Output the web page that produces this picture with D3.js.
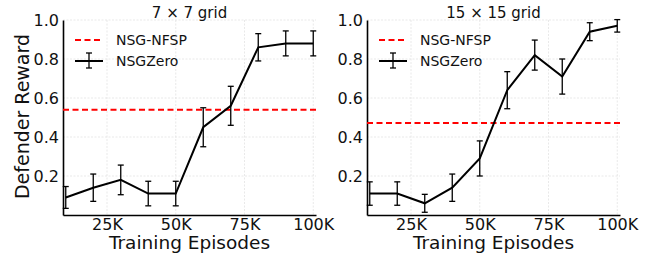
<!DOCTYPE html>
<html>
<head>
<meta charset="utf-8">
<script src="https://cdn.jsdelivr.net/npm/d3@7"></script>
<style>
  body { margin: 0; background: #fff; }
  svg { display: block; }
</style>
</head>
<body>
<svg id="chart" width="659" height="262"></svg>
<script>
const width = 659;
const height = 262;
const fontFamily = "'DejaVu Sans', Verdana, sans-serif";

// Data
const episodes = [10000, 20000, 30000, 40000, 50000, 60000, 70000, 80000, 90000, 100000];
const xTicks = [25000, 50000, 75000, 100000];
const yTicks = [0.2, 0.4, 0.6, 0.8, 1.0];

const titles = ["7 \u00d7 7 grid", "15 \u00d7 15 grid"];
const zeroMean7 = [0.09, 0.14, 0.18, 0.11, 0.11, 0.45, 0.56, 0.86, 0.88, 0.88];
const zeroErr7 = [0.056, 0.07, 0.076, 0.063, 0.063, 0.10, 0.10, 0.07, 0.064, 0.064];
const nfsp7 = 0.54;
const zeroMean15 = [0.11, 0.11, 0.06, 0.14, 0.29, 0.64, 0.82, 0.71, 0.94, 0.97];
const zeroErr15 = [0.06, 0.06, 0.046, 0.07, 0.09, 0.095, 0.077, 0.09, 0.046, 0.032];
const nfsp15 = 0.472;

const panels = [
  { title: titles[0], mean: zeroMean7, err: zeroErr7, nfsp: nfsp7, left: 63, right: 316, yLabel: true },
  { title: titles[1], mean: zeroMean15, err: zeroErr15, nfsp: nfsp15, left: 367, right: 620, yLabel: false }
];

const plotTop = 20;
const plotBottom = 215;

const svg = d3.select("#chart");

panels.forEach(p => {
  const x = d3.scaleLinear().domain([9000, 101000]).range([p.left, p.right]);
  const y = d3.scaleLinear().domain([0, 1.0]).range([plotBottom, plotTop]);
  const g = svg.append("g");

  // Grid
  g.selectAll(".vgrid").data(xTicks).enter().append("line")
    .attr("x1", d => x(d)).attr("x2", d => x(d))
    .attr("y1", plotTop).attr("y2", plotBottom)
    .attr("stroke", "#e3e3e3").attr("stroke-width", 0.8)
    .attr("stroke-dasharray", "2,1.5");
  g.selectAll(".hgrid").data(yTicks).enter().append("line")
    .attr("x1", p.left).attr("x2", p.right)
    .attr("y1", d => y(d)).attr("y2", d => y(d))
    .attr("stroke", "#e3e3e3").attr("stroke-width", 0.8)
    .attr("stroke-dasharray", "2,1.5");

  // Axes
  const xAxis = g.append("g")
    .attr("transform", `translate(0,${plotBottom})`)
    .call(d3.axisBottom(x).tickValues(xTicks).tickSize(0).tickPadding(4)
      .tickFormat(d => (d / 1000) + "K"));
  const yAxis = g.append("g")
    .attr("transform", `translate(${p.left},0)`)
    .call(d3.axisLeft(y).tickValues(yTicks).tickSize(0).tickPadding(4)
      .tickFormat(d3.format(".1f")));
  [xAxis, yAxis].forEach(a => {
    a.select(".domain").attr("stroke", "#000").attr("stroke-width", 1.6);
    a.selectAll("text")
      .attr("fill", "#111")
      .style("font-family", fontFamily)
      .style("font-size", "16px");
  });

  // NFSP baseline
  g.append("line")
    .attr("x1", p.left).attr("x2", p.right)
    .attr("y1", y(p.nfsp)).attr("y2", y(p.nfsp))
    .attr("stroke", "#ff0000").attr("stroke-width", 2)
    .attr("stroke-dasharray", "6,3.5");

  // NSGZero line
  const pts = episodes.map((e, i) => ({ e, m: p.mean[i], s: p.err[i] }));
  g.append("path")
    .datum(pts)
    .attr("fill", "none")
    .attr("stroke", "#000")
    .attr("stroke-width", 2)
    .attr("d", d3.line().x(d => x(d.e)).y(d => y(d.m)));

  // Error bars
  const eb = g.selectAll(".eb").data(pts).enter().append("g");
  eb.append("line")
    .attr("x1", d => x(d.e)).attr("x2", d => x(d.e))
    .attr("y1", d => y(d.m - d.s)).attr("y2", d => y(d.m + d.s))
    .attr("stroke", "#000").attr("stroke-width", 1.3);
  [-1, 1].forEach(k => {
    eb.append("line")
      .attr("x1", d => x(d.e) - 3).attr("x2", d => x(d.e) + 3)
      .attr("y1", d => y(d.m + k * d.s)).attr("y2", d => y(d.m + k * d.s))
      .attr("stroke", "#000").attr("stroke-width", 1.3);
  });

  // Title
  const cx = (p.left + p.right) / 2;
  g.append("text")
    .attr("x", cx).attr("y", 18)
    .attr("text-anchor", "middle")
    .attr("fill", "#111")
    .style("font-family", fontFamily)
    .style("font-size", "15px")
    .text(p.title);

  // X label
  g.append("text")
    .attr("x", cx).attr("y", 249)
    .attr("text-anchor", "middle")
    .attr("fill", "#111")
    .style("font-family", fontFamily)
    .style("font-size", "18.5px")
    .text("Training Episodes");

  if (p.yLabel) {
    g.append("text")
      .attr("transform", `translate(29,${(plotTop + plotBottom) / 2 - 1}) rotate(-90)`)
      .attr("text-anchor", "middle")
      .attr("fill", "#111")
      .style("font-family", fontFamily)
      .style("font-size", "19px")
      .text("Defender Reward");
  }

  // Legend
  const lx = p.left + 12;
  g.append("line")
    .attr("x1", lx).attr("x2", lx + 28)
    .attr("y1", 40).attr("y2", 40)
    .attr("stroke", "#ff0000").attr("stroke-width", 2)
    .attr("stroke-dasharray", "6,3.5");
  g.append("text")
    .attr("x", lx + 41).attr("y", 45)
    .attr("fill", "#111")
    .style("font-family", fontFamily)
    .style("font-size", "14px")
    .text("NSG-NFSP");
  g.append("line")
    .attr("x1", lx).attr("x2", lx + 28)
    .attr("y1", 61).attr("y2", 61)
    .attr("stroke", "#000").attr("stroke-width", 2);
  g.append("line")
    .attr("x1", lx + 14).attr("x2", lx + 14)
    .attr("y1", 53).attr("y2", 68)
    .attr("stroke", "#000").attr("stroke-width", 1.3);
  [53, 68].forEach(v => {
    g.append("line")
      .attr("x1", lx + 11).attr("x2", lx + 17)
      .attr("y1", v).attr("y2", v)
      .attr("stroke", "#000").attr("stroke-width", 1.3);
  });
  g.append("text")
    .attr("x", lx + 41).attr("y", 66)
    .attr("fill", "#111")
    .style("font-family", fontFamily)
    .style("font-size", "14px")
    .text("NSGZero");
});
</script>
</body>
</html>
